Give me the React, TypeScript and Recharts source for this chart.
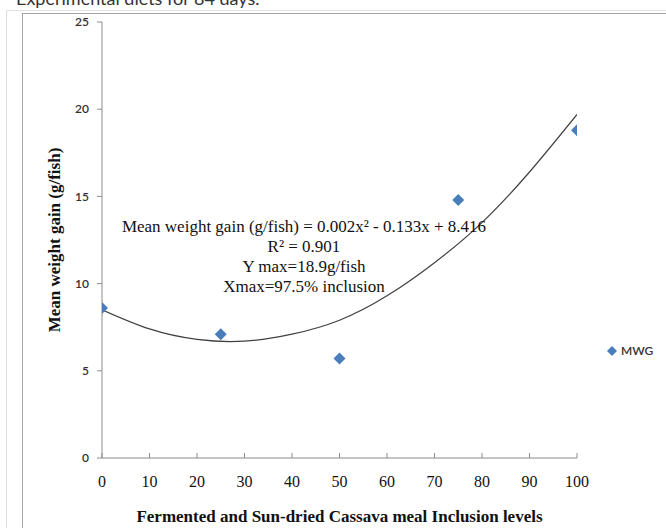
import React from 'react';
import {
  ComposedChart,
  Line,
  Scatter,
  XAxis,
  YAxis,
} from 'recharts';

// inclusion levels (%) and mean weight gain (g/fish)
const inclusionLevels = [0, 25, 50, 75, 100];
const meanWeightGain = [8.6, 7.1, 5.7, 14.8, 18.8];

// polynomial trend line, every 10%
const trendX = [0, 10, 20, 30, 40, 50, 60, 70, 80, 90, 100];
const trendY = [8.5, 7.4, 6.8, 6.7, 7.1, 7.9, 9.3, 11.2, 13.5, 16.4, 19.7];

const xTicks = [0, 10, 20, 30, 40, 50, 60, 70, 80, 90, 100];
const yTicks = [0, 5, 10, 15, 20, 25];

const equationLines = [
  'Mean weight gain (g/fish) = 0.002x² - 0.133x + 8.416',
  'R² = 0.901',
  'Y max=18.9g/fish',
  'Xmax=97.5% inclusion',
];

const BLUE = '#4A7EBB';
const AXIS = '#8c8c8c';
const SERIF = '"Liberation Serif", "Times New Roman", serif';
const SANS = 'Lato, "Open Sans", sans-serif';

const points = inclusionLevels.map((x, i) => ({ x, y: meanWeightGain[i] }));
const trend = trendX.map((x, i) => ({ x, y: trendY[i] }));

const Diamond = (props: any) => {
  const { cx, cy } = props;
  const r = 6;
  return (
    <polygon
      points={`${cx},${cy - r} ${cx + r},${cy} ${cx},${cy + r} ${cx - r},${cy}`}
      fill={BLUE}
    />
  );
};

export default function App() {
  return (
    <div
      style={{
        position: 'absolute',
        left: 0,
        top: 0,
        width: 666,
        height: 528,
        overflow: 'hidden',
        background: '#fff',
      }}
    >
      <div
        style={{
          position: 'absolute',
          left: 16,
          top: -11,
          fontFamily: SANS,
          fontSize: 18,
          lineHeight: '18px',
          color: '#333',
          whiteSpace: 'nowrap',
        }}
      >
        Experimental diets for 84 days.
      </div>
      <div
        style={{
          position: 'absolute',
          left: 6,
          top: 10,
          width: 700,
          height: 600,
          border: '1px solid #e0e0e0',
        }}
      />
      <div
        style={{
          position: 'absolute',
          left: 22,
          top: 13,
          width: 700,
          height: 600,
          border: '1px solid #a6a6a6',
        }}
      />

      <div style={{ position: 'absolute', left: 0, top: 0 }}>
        <ComposedChart
          width={666}
          height={528}
          margin={{ top: 22, right: 89, bottom: 0, left: 32 }}
        >
          <XAxis
            type="number"
            dataKey="x"
            domain={[0, 100]}
            ticks={xTicks}
            interval={0}
            allowDataOverflow
            stroke={AXIS}
            tickSize={-5}
            tickMargin={23}
            height={70}
            tick={{ fill: '#111', fontSize: 16, fontFamily: SERIF }}
            label={{
              value: 'Fermented and Sun-dried Cassava meal Inclusion levels',
              position: 'insideBottom',
              offset: 6,
              style: {
                fill: '#111',
                fontSize: 17,
                fontWeight: 'bold',
                fontFamily: SERIF,
              },
            }}
          />
          <YAxis
            type="number"
            dataKey="y"
            domain={[0, 25]}
            ticks={yTicks}
            interval={0}
            allowDataOverflow
            stroke={AXIS}
            tickSize={5}
            tickMargin={8}
            width={70}
            tick={{ fill: '#333', fontSize: 12, fontFamily: SANS, fontWeight: 600 }}
            label={{
              value: 'Mean weight gain (g/fish)',
              angle: -90,
              position: 'insideLeft',
              offset: 22,
              style: {
                textAnchor: 'middle',
                fill: '#111',
                fontSize: 17,
                fontWeight: 'bold',
                fontFamily: SERIF,
              },
            }}
          />
          <Line
            data={trend}
            dataKey="y"
            type="natural"
            stroke="#404040"
            strokeWidth={1.2}
            dot={false}
            activeDot={false}
            isAnimationActive={false}
          />
          <Scatter
            data={points}
            dataKey="y"
            name="MWG"
            fill={BLUE}
            shape={Diamond}
            isAnimationActive={false}
          />
        </ComposedChart>
      </div>

      <div
        style={{
          position: 'absolute',
          left: 304,
          top: 217,
          transform: 'translateX(-50%)',
          fontFamily: SERIF,
          fontSize: 17,
          lineHeight: '20px',
          color: '#111',
          textAlign: 'center',
          whiteSpace: 'nowrap',
        }}
      >
        {equationLines.map((l) => (
          <div key={l}>{l}</div>
        ))}
      </div>

      <div
        style={{
          position: 'absolute',
          left: 607,
          top: 343,
          display: 'flex',
          alignItems: 'center',
          fontFamily: SANS,
          fontSize: 12,
          fontWeight: 600,
          color: '#333',
        }}
      >
        <svg width={10} height={10} style={{ marginRight: 4 }}>
          <polygon points="5,0 10,5 5,10 0,5" fill={BLUE} />
        </svg>
        MWG
      </div>
    </div>
  );
}
